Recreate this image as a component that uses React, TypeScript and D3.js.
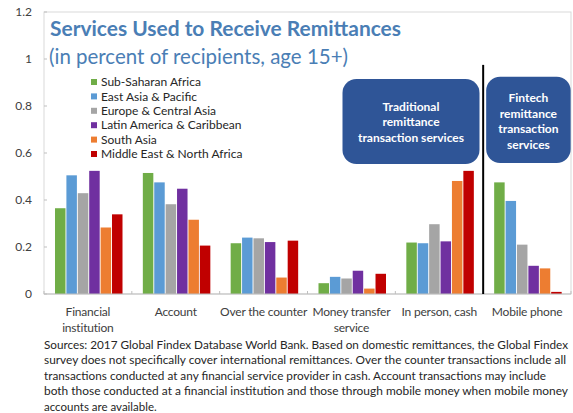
import * as d3 from "d3";

// values
const categories = [
  ["Financial", "institution"],
  ["Account"],
  ["Over the counter"],
  ["Money transfer", "service"],
  ["In person, cash"],
  ["Mobile phone"],
];
const regions = [
  "Sub-Saharan Africa",
  "East Asia & Pacific",
  "Europe & Central Asia",
  "Latin America & Caribbean",
  "South Asia",
  "Middle East & North Africa",
];
const colors = ["#70AD47", "#5B9BD5", "#A5A5A5", "#7030A0", "#ED7D31", "#C00000"];

const subSaharan = [0.365, 0.515, 0.216, 0.046, 0.219, 0.475];
const eastAsia = [0.505, 0.475, 0.24, 0.073, 0.216, 0.396];
const europe = [0.429, 0.382, 0.237, 0.066, 0.297, 0.21];
const latinAmerica = [0.524, 0.448, 0.221, 0.099, 0.224, 0.12];
const southAsia = [0.283, 0.316, 0.07, 0.023, 0.481, 0.109];
const middleEast = [0.339, 0.206, 0.227, 0.086, 0.524, 0.009];
const series = [subSaharan, eastAsia, europe, latinAmerica, southAsia, middleEast];

const yTicks = [0, 0.2, 0.4, 0.6, 0.8, 1, 1.2];

const footnote = [
  "Sources: 2017 Global Findex Database World Bank. Based on domestic remittances, the Global Findex",
  "survey does not specifically cover international remittances. Over the counter transactions include all",
  "transactions conducted at any financial service provider in cash. Account transactions may include",
  "both those conducted at a financial institution and those through mobile money when mobile money",
  "accounts are available.",
];
const footWidths = [524, 522, 502, 524, 0];

const W = 573;
const H = 413;
const FONT = "Lato, 'Open Sans', sans-serif";

export default function App() {
  const left = 44;
  const right = 571;
  const top = 12;
  const bottom = 294;

  const keys = categories.map((c) => c.join(" "));
  const x0 = d3.scaleBand<string>().domain(keys).range([left, right]);
  const x1 = d3
    .scaleBand<number>()
    .domain(d3.range(regions.length))
    .range([11, 78.5])
    .paddingInner(0.08);
  const y = d3.scaleLinear().domain([0, 1.2]).range([bottom, top]);

  const step = x0.step();
  const splitX = x0(keys[5])!;

  return (
    <svg
      width={W}
      height={H}
      style={{ position: "absolute", left: 0, top: 0, background: "#fff" }}
      fontFamily={FONT}
    >
      {/* frame */}
      <rect x={left} y={top} width={right - left} height={bottom - top} fill="none" stroke="#D9D9D9" />

      {/* y axis */}
      {yTicks.map((t) => (
        <g key={t}>
          <line x1={left} x2={left + 3} y1={y(t)} y2={y(t)} stroke="#BFBFBF" />
          <text x={32} y={y(t)} dy="0.35em" textAnchor="end" fontSize={12} fill="#404040">
            {t}
          </text>
        </g>
      ))}

      {/* bars */}
      {keys.map((k, ci) => (
        <g key={k} transform={`translate(${x0(k)},0)`}>
          {series.map((s, si) => (
            <rect
              key={si}
              x={x1(si)}
              y={y(s[ci])}
              width={x1.bandwidth()}
              height={y(0) - y(s[ci])}
              fill={colors[si]}
            />
          ))}
        </g>
      ))}

      {/* x axis */}
      <line x1={left} x2={right} y1={bottom} y2={bottom} stroke="#BFBFBF" />
      {d3.range(keys.length + 1).map((i) => (
        <line key={i} x1={left + i * step} x2={left + i * step} y1={bottom} y2={bottom - 3} stroke="#BFBFBF" />
      ))}
      {categories.map((lines, ci) => (
        <text
          key={ci}
          x={x0(keys[ci])! + step / 2}
          y={316}
          textAnchor="middle"
          fontSize={12}
          letterSpacing={-0.2}
          fill="#404040"
        >
          {lines.map((l, li) => (
            <tspan key={li} x={x0(keys[ci])! + step / 2} dy={li === 0 ? 0 : 16}>
              {l}
            </tspan>
          ))}
        </text>
      ))}

      {/* divider between traditional and fintech */}
      <line x1={splitX} x2={splitX} y1={y(0.975)} y2={bottom} stroke="#000" strokeWidth={2} />

      {/* annotation boxes */}
      <rect x={x0(keys[3])! + 35} y={y(0.915)} width={137} height={y(0.553) - y(0.915)} rx={14} fill="#2F5597" />
      <text textAnchor="middle" fontSize={12} fontWeight="bold" fill="#fff">
        {["Traditional", "remittance", "transaction services"].map((l, i) => (
          <tspan key={i} x={x0(keys[3])! + 35 + 68.5} y={110.5 + i * 15.5}>
            {l}
          </tspan>
        ))}
      </text>
      <rect x={splitX + 3} y={y(0.925)} width={84.5} height={y(0.557) - y(0.925)} rx={14} fill="#2F5597" />
      <text textAnchor="middle" fontSize={12} fontWeight="bold" fill="#fff">
        {["Fintech", "remittance", "transaction", "services"].map((l, i) => (
          <tspan key={i} x={splitX + 3 + 42.25} y={102 + i * 15.6}>
            {l}
          </tspan>
        ))}
      </text>

      {/* title */}
      <text x={50} y={36} fontSize={20} fontWeight="bold" fill="#4A7EB5" textLength={351} lengthAdjust="spacingAndGlyphs">
        Services Used to Receive Remittances
      </text>
      <text x={49} y={63.5} fontSize={20.5} fill="#4A7EB5" textLength={299} lengthAdjust="spacingAndGlyphs">
        (in percent of recipients, age 15+)
      </text>

      {/* legend */}
      {regions.map((r, i) => (
        <g key={r} transform={`translate(91,${82 + i * 14.4})`}>
          <rect x={0} y={-3} width={6} height={6} fill={colors[i]} />
          <text x={10} y={0} dy="0.35em" fontSize={12} fill="#262626">
            {r}
          </text>
        </g>
      ))}

      {/* footnote */}
      {footnote.map((l, i) => (
        <text
          key={i}
          x={44}
          y={348.5 + i * 15.6}
          fontSize={11.5}
          fill="#262626"
          textLength={footWidths[i] || undefined}
          lengthAdjust="spacingAndGlyphs"
        >
          {l}
        </text>
      ))}
    </svg>
  );
}
